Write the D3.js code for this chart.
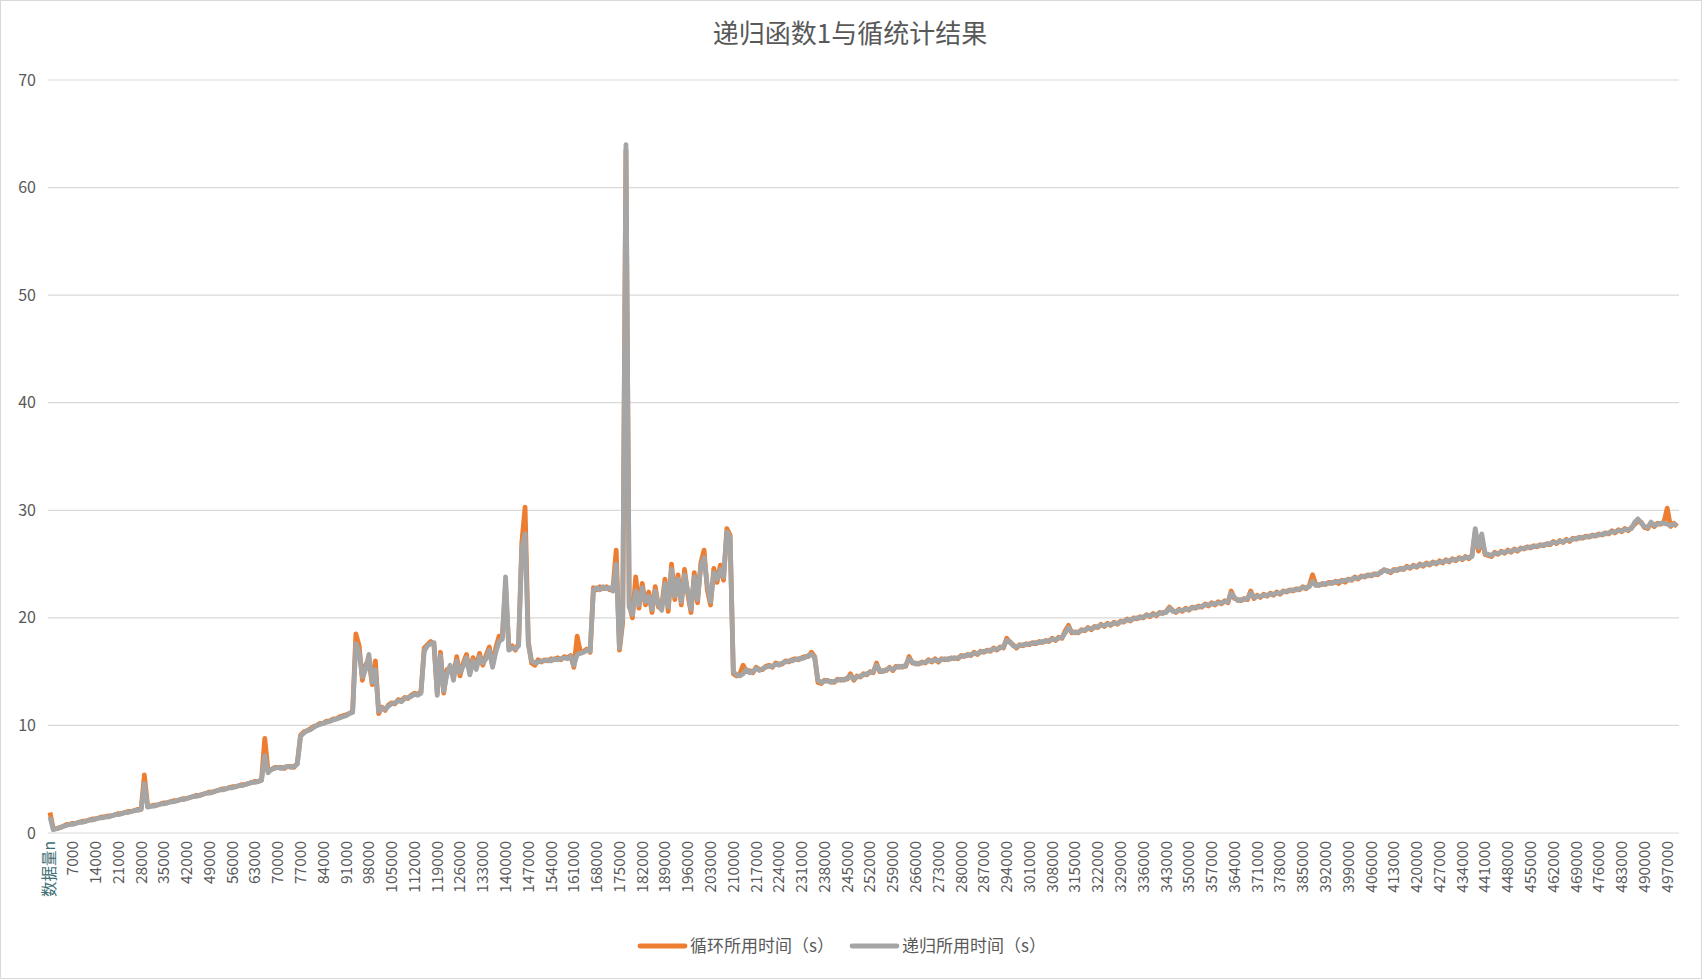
<!DOCTYPE html>
<html><head><meta charset="utf-8">
<script src="https://cdn.jsdelivr.net/npm/d3@7/dist/d3.min.js"></script>
<style>body{margin:0;background:#fff}svg{display:block;font-family:"Noto Sans CJK SC","Noto Sans",sans-serif}</style>
</head><body><svg id="c" width="1702" height="979"></svg>
<script>
const title = "递归函数1与循统计结果";
const seriesNames = ["循环所用时间（s）", "递归所用时间（s）"];
const yTicks = [0,10,20,30,40,50,60,70];
const categories = ["数据量n"];
for (let k = 1; k <= 500; k++) categories.push(String(k * 1000));
const recursiveTimes = [
1.5,
0.3,0.4,0.5,0.6,0.7,0.8,0.8,0.9,1.0,1.0,
1.1,1.2,1.2,1.3,1.4,1.4,1.5,1.5,1.6,1.7,
1.7,1.8,1.9,1.9,2.0,2.1,2.1,2.2,4.6,2.4,
2.5,2.5,2.6,2.7,2.7,2.8,2.9,2.9,3.0,3.1,
3.1,3.2,3.3,3.4,3.4,3.5,3.6,3.7,3.7,3.8,
3.9,4.0,4.0,4.1,4.2,4.2,4.3,4.4,4.4,4.5,
4.6,4.7,4.7,4.8,4.9,7.2,5.6,5.9,6.0,6.1,
6.0,6.1,6.2,6.1,6.2,6.4,9.0,9.3,9.5,9.6,
9.8,10.0,10.1,10.2,10.3,10.4,10.5,10.6,10.7,10.8,
10.9,11.1,11.2,17.6,16.8,14.5,15.2,16.6,14.0,15.2,
11.3,11.6,11.5,11.8,12.0,12.1,12.3,12.2,12.5,12.6,
12.7,12.9,12.8,13.0,16.9,17.4,17.6,17.7,12.8,16.5,
13.2,14.8,15.6,14.2,16.0,14.9,15.5,16.3,14.7,16.0,
15.2,16.4,15.8,16.2,17.0,15.4,16.8,17.8,18.0,23.8,
17.0,17.2,17.1,17.4,26.5,27.8,17.5,16.0,15.8,15.9,
16.0,16.0,16.1,16.0,16.2,16.1,16.2,16.3,16.2,16.4,
15.6,16.6,16.7,16.8,17.0,16.9,22.6,22.8,22.6,22.9,
22.7,22.8,22.5,25.0,17.2,20.0,64.0,21.0,20.3,22.5,
21.2,22.8,21.5,22.0,20.8,22.5,21.2,20.7,23.2,21.0,
24.5,22.0,23.6,21.5,24.0,22.5,20.8,23.8,21.7,24.8,
25.6,23.0,21.5,24.2,23.6,24.5,23.8,28.0,27.5,15.0,
14.7,14.6,14.8,15.2,14.9,15.0,15.3,15.1,15.3,15.4,
15.5,15.5,15.7,15.6,15.8,15.9,16.0,16.0,16.1,16.2,
16.2,16.3,16.5,16.6,16.3,14.2,14.0,14.1,14.2,14.0,
14.1,14.2,14.3,14.2,14.4,14.6,14.3,14.5,14.6,14.7,
14.8,14.9,15.0,15.6,15.1,15.0,15.2,15.3,15.2,15.4,
15.5,15.4,15.6,16.2,15.9,15.7,15.8,15.8,15.9,16.0,
16.0,16.1,16.0,16.1,16.2,16.1,16.3,16.2,16.3,16.4,
16.5,16.5,16.6,16.7,16.7,16.8,16.9,16.9,17.0,17.1,
17.1,17.2,17.3,17.9,17.8,17.4,17.3,17.4,17.5,17.5,
17.6,17.6,17.7,17.7,17.8,17.8,17.9,18.0,18.0,18.1,
18.2,18.6,19.1,18.7,18.6,18.7,18.8,18.9,19.0,19.0,
19.1,19.2,19.3,19.3,19.4,19.4,19.5,19.5,19.6,19.7,
19.8,19.8,19.9,20.0,20.0,20.1,20.2,20.2,20.3,20.3,
20.4,20.5,20.5,20.9,20.6,20.6,20.7,20.7,20.8,20.8,
20.9,21.0,21.0,21.1,21.2,21.2,21.3,21.3,21.4,21.4,
21.5,21.5,22.3,21.9,21.6,21.7,21.7,21.8,22.3,21.9,
22.0,22.0,22.1,22.1,22.2,22.2,22.3,22.3,22.4,22.5,
22.5,22.6,22.6,22.7,22.8,22.8,22.9,23.4,23.0,23.1,
23.1,23.2,23.2,23.3,23.3,23.4,23.4,23.5,23.5,23.6,
23.7,23.7,23.8,23.9,23.9,24.0,24.0,24.1,24.2,24.5,
24.3,24.3,24.4,24.5,24.5,24.6,24.7,24.7,24.8,24.8,
24.9,24.9,25.0,25.0,25.1,25.1,25.2,25.2,25.3,25.3,
25.4,25.4,25.5,25.5,25.6,25.6,25.7,28.3,26.5,27.8,
26.0,25.9,25.8,26.0,26.0,26.1,26.1,26.2,26.2,26.3,
26.3,26.4,26.5,26.5,26.6,26.6,26.7,26.7,26.8,26.8,
26.9,27.0,27.0,27.1,27.1,27.2,27.2,27.3,27.4,27.4,
27.5,27.5,27.6,27.6,27.7,27.7,27.8,27.8,27.9,28.0,
28.0,28.1,28.1,28.2,28.2,28.3,28.9,29.2,28.8,28.5,
28.4,28.9,28.6,28.7,28.8,28.8,28.7,28.6,28.7,28.6];
const loopTimes = [
1.9,
0.4,0.4,0.5,0.6,0.8,0.8,0.9,0.9,1.0,1.1,
1.1,1.2,1.3,1.3,1.4,1.5,1.5,1.6,1.6,1.7,
1.8,1.8,1.9,2.0,2.0,2.1,2.2,2.2,5.4,2.5,
2.5,2.6,2.6,2.7,2.8,2.8,2.9,3.0,3.0,3.1,
3.2,3.2,3.3,3.4,3.5,3.5,3.6,3.7,3.8,3.8,
3.9,4.0,4.1,4.1,4.2,4.3,4.3,4.4,4.5,4.5,
4.6,4.7,4.8,4.8,4.9,8.8,5.8,5.9,6.1,6.1,
6.1,6.0,6.2,6.2,6.1,6.5,9.1,9.4,9.5,9.7,
9.9,10.0,10.2,10.2,10.4,10.4,10.6,10.6,10.8,10.9,
11.0,11.1,11.3,18.5,17.4,14.2,15.6,16.2,13.8,16.0,
11.1,11.7,11.4,11.9,12.1,12.0,12.4,12.3,12.6,12.5,
12.8,13.0,12.9,13.1,17.2,17.5,17.8,17.5,13.0,16.8,
13.0,15.2,15.3,14.6,16.4,14.6,15.8,16.6,14.9,16.3,
15.5,16.7,15.6,16.5,17.3,15.6,17.2,18.3,18.2,23.0,
17.2,17.4,17.0,17.6,27.0,30.3,17.8,15.8,15.6,16.1,
15.9,16.1,16.0,16.2,16.1,16.3,16.1,16.4,16.3,16.5,
15.4,18.3,16.8,16.9,17.1,16.8,22.8,22.6,22.9,22.7,
22.9,22.6,22.7,26.3,17.0,19.6,63.5,21.3,20.0,23.8,
20.9,23.2,21.2,22.4,20.5,22.9,21.0,21.1,23.6,20.6,
25.0,21.7,24.0,21.2,24.5,22.2,20.5,24.2,21.4,25.1,
26.3,22.6,21.2,24.6,23.3,24.9,23.5,28.3,27.7,14.8,
14.6,14.8,15.6,15.0,15.1,14.9,15.4,15.2,15.2,15.5,
15.6,15.4,15.8,15.7,15.7,16.0,15.9,16.1,16.2,16.1,
16.3,16.4,16.4,16.8,16.4,14.0,13.9,14.2,14.1,14.1,
14.0,14.3,14.2,14.3,14.3,14.8,14.2,14.6,14.5,14.8,
14.7,15.0,14.9,15.8,15.0,15.1,15.1,15.4,15.1,15.5,
15.4,15.5,15.5,16.4,15.8,15.8,15.7,15.9,15.8,16.1,
15.9,16.2,15.9,16.2,16.1,16.2,16.2,16.3,16.2,16.5,
16.4,16.6,16.5,16.8,16.6,16.9,16.8,17.0,16.9,17.2,
17.0,17.3,17.2,18.1,17.7,17.5,17.2,17.5,17.4,17.6,
17.5,17.7,17.6,17.8,17.7,17.9,17.8,18.1,17.9,18.2,
18.1,18.8,19.3,18.6,18.7,18.6,18.9,18.8,19.1,18.9,
19.2,19.1,19.4,19.2,19.5,19.3,19.6,19.4,19.7,19.6,
19.9,19.7,20.0,19.9,20.1,20.0,20.3,20.1,20.4,20.2,
20.5,20.4,20.6,21.0,20.7,20.5,20.8,20.6,20.9,20.7,
21.0,20.9,21.1,21.0,21.3,21.1,21.4,21.2,21.5,21.3,
21.6,21.4,22.5,21.8,21.7,21.6,21.8,21.7,22.5,21.8,
22.1,21.9,22.2,22.0,22.3,22.1,22.4,22.2,22.5,22.4,
22.6,22.5,22.7,22.6,22.9,22.7,23.0,24.0,23.1,23.0,
23.2,23.1,23.3,23.2,23.4,23.2,23.5,23.3,23.6,23.5,
23.8,23.6,23.9,23.8,24.0,23.9,24.1,24.0,24.3,24.4,
24.4,24.2,24.5,24.4,24.6,24.5,24.8,24.6,24.9,24.7,
25.0,24.8,25.1,24.9,25.2,25.0,25.3,25.1,25.4,25.2,
25.5,25.3,25.6,25.4,25.7,25.5,25.8,28.0,26.2,27.4,
25.9,25.8,25.7,26.1,25.9,26.2,26.0,26.3,26.1,26.4,
26.2,26.5,26.4,26.6,26.5,26.7,26.6,26.8,26.7,26.9,
26.8,27.1,26.9,27.2,27.0,27.3,27.1,27.4,27.3,27.5,
27.4,27.6,27.5,27.7,27.6,27.8,27.7,27.9,27.8,28.1,
27.9,28.2,28.0,28.3,28.1,28.4,28.7,29.0,28.9,28.4,
28.3,28.8,28.5,28.8,28.7,28.9,30.2,28.5,28.8,28.5];

const svg = d3.select("#c");
const W = 1702, H = 979;
const m = {l: 50, r: 1677, t: 80, b: 833};
svg.append("rect").attr("x",0.5).attr("y",0.5).attr("width",W-1).attr("height",H-1).attr("fill","#fff").attr("stroke","#d9d9d9");

const x = d3.scalePoint().domain(categories).range([m.l, m.r]);
const y = d3.scaleLinear().domain([0,70]).range([m.b, m.t]);

svg.append("g").selectAll("line").data(yTicks).join("line")
  .attr("x1", m.l - 2).attr("x2", m.r + 2).attr("y1", d => y(d)).attr("y2", d => y(d))
  .attr("stroke", "#d9d9d9").attr("stroke-width", 1.2);
svg.append("g").selectAll("text").data(yTicks).join("text")
  .attr("x", 36).attr("y", d => y(d)).attr("dy", "0.35em").attr("text-anchor", "end")
  .attr("font-size", 16).attr("fill", "#595959").text(d => d);

const tickCats = categories.filter((c, i) => i % 7 === 0);
svg.append("g").selectAll("text").data(tickCats).join("text")
  .attr("transform", d => `translate(${x(d)},${m.b + 8}) rotate(-90)`)
  .attr("dy", "0.35em").attr("text-anchor", "end")
  .attr("font-size", 15.5).attr("fill", d => d === "数据量n" ? "#3e6e74" : "#595959").text(d => d);

const line = d3.line().x((d, i) => x(categories[i])).y(d => y(d)).curve(d3.curveLinear);
svg.append("path").attr("d", line(loopTimes)).attr("fill","none").attr("stroke","#ed7d31").attr("stroke-width",4.8).attr("stroke-linejoin","round");
svg.append("path").attr("d", line(recursiveTimes)).attr("fill","none").attr("stroke","#a5a5a5").attr("stroke-width",4.8).attr("stroke-linejoin","round");

svg.append("text").attr("x", 850).attr("y", 34).attr("dy","0.35em").attr("text-anchor","middle")
  .attr("font-size", 26).attr("fill","#595959").text(title);

const lg = [{c:"#ed7d31", x:640, t:seriesNames[0]}, {c:"#a5a5a5", x:852, t:seriesNames[1]}];
lg.forEach(l => {
  svg.append("line").attr("x1", l.x).attr("x2", l.x + 45).attr("y1", 946).attr("y2", 946).attr("stroke", l.c).attr("stroke-width", 4.8).attr("stroke-linecap","round");
  svg.append("text").attr("x", l.x + 50).attr("y", 946).attr("dy","0.35em").attr("font-size", 17).attr("fill","#595959").text(l.t);
});
</script></body></html>
